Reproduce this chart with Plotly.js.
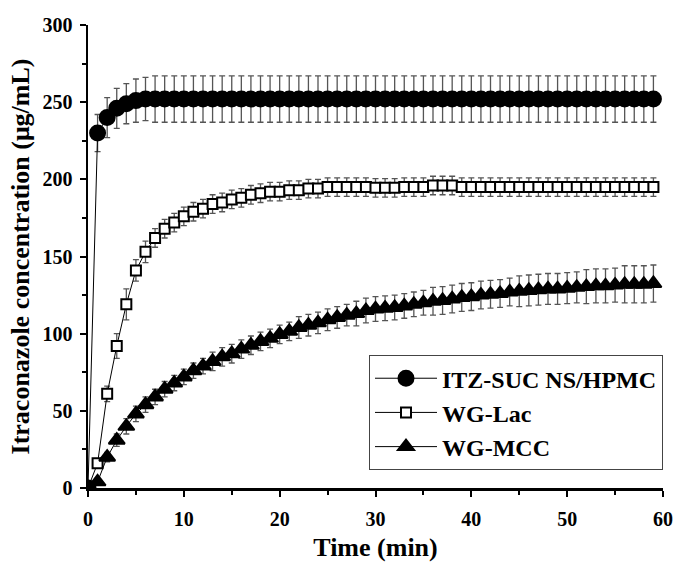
<!DOCTYPE html>
<html>
<head>
<meta charset="utf-8">
<script src="https://cdn.plot.ly/plotly-3.0.1.min.js"></script>
<style>html,body{margin:0;padding:0;background:#fff;}#chart{width:677px;height:564px;}</style>
</head>
<body>
<div id="chart"></div>
<script>
const time = [0,1,2,3,4,5,6,7,8,9,10,11,12,13,14,15,16,17,18,19,20,21,22,23,24,25,26,27,28,29,30,31,32,33,34,35,36,37,38,39,40,41,42,43,44,45,46,47,48,49,50,51,52,53,54,55,56,57,58,59];

const itzName = "ITZ-SUC NS/HPMC";
const itzMean = [0,230,240,246,249,251,252,252,252,252,252,252,252,252,252,252,252,252,252,252,252,252,252,252,252,252,252,252,252,252,252,252,252,252,252,252,252,252,252,252,252,252,252,252,252,252,252,252,252,252,252,252,252,252,252,252,252,252,252,252];
const itzErr  = [0,12,13,13,13,14,14,15,15,15,15,15,15,15,15,15,15,15,15,15,15,15,15,15,15,15,15,15,15,15,15,15,15,15,15,15,15,15,15,15,15,15,15,15,15,15,15,15,15,15,15,15,15,15,15,15,15,15,15,15];

const lacName = "WG-Lac";
const lacMean = [0,16,61,92,119,141,153,162,168,172,176,179,181,184,185,187,188,190,191,192,192,193,193,194,194,195,195,195,195,195,194.5,194.5,194.5,195,195,195,196,196,196,195,195,195,195,195,195,195,195,195,195,195,195,195,195,195,195,195,195,195,195,195];
const lacErr  = [0,3,5,8,10,7,7,6,6,6,6,6,6,6,6,6,6,6,6,6,6,6,6,6,6,6,6,6,6,6,6,6,6,6,6,6,6,6,6,6,6,6,6,6,6,6,6,6,6,6,6,6,6,6,6,6,6,6,6,6];

const mccName = "WG-MCC";
const mccMean = [0,4,20,31,40,48,54,59,64,68,72,76,79,82,85,87,90,92.5,95,97,99.5,101.5,104,105.5,107,109,110.5,112,113,115,116,116.5,117,118,119,120,121,121.5,122.5,123.5,124,125,125.5,126,127,127.5,128,128.5,129,129,129.5,130,130.5,131,131,131.5,132,132,132,132.5];
const mccErr  = [0,2,3,4,5,5,5,5,5,5,5,5,5,6,6,6,6,6,6,6,6,6,7,7,7,7,7,7,8,8,8,8,8,8,8,8,9,9,9,9,9,9,9,9,9,10,10,10,10,10,10,10,11,11,11,11,12,12,12,12];

const xTicks = [0,10,20,30,40,50,60];
const yTicks = [0,50,100,150,200,250,300];

const FONT = "Liberation Serif, Times New Roman, serif";

function mk(name, y, err, symbol, size, fill) {
  return {
    x: time, y: y, name: "<b>" + name + "</b>", type: "scatter", mode: "lines+markers",
    line: {color: "#000", width: 1},
    marker: {symbol: symbol, size: size, color: fill, line: {color: "#000", width: 2}},
    error_y: {type: "data", array: err, visible: true, color: "#555", thickness: 1.3, width: 3}
  };
}

const data = [
  mk(itzName, itzMean, itzErr, "circle", 15, "#000"),
  mk(lacName, lacMean, lacErr, "square", 10, "#fff"),
  mk(mccName, mccMean, mccErr, "triangle-up", 14, "#000")
];

const axisCommon = {
  showline: true, linecolor: "#000", linewidth: 2.5,
  ticks: "outside", ticklen: 6, tickwidth: 2, tickcolor: "#000",
  showgrid: false, zeroline: false,
  tickfont: {family: FONT, size: 20, color: "#000"},
  mirror: false
};

const layout = {
  width: 677, height: 564,
  margin: {l: 88, r: 14, t: 25, b: 76},
  paper_bgcolor: "#fff", plot_bgcolor: "#fff",
  font: {family: FONT, color: "#000"},
  showlegend: true,
  xaxis: Object.assign({}, axisCommon, {
    range: [0, 60], tickvals: xTicks, ticktext: xTicks.map(v => "<b>" + v + "</b>"),
    ticklabelstandoff: 5,
    minor: {dtick: 5, ticks: "outside", ticklen: 4, tickwidth: 2, tickcolor: "#000"},
    title: {text: "<b>Time (min)</b>", font: {family: FONT, size: 26, color: "#000"}, standoff: 10}
  }),
  yaxis: Object.assign({}, axisCommon, {
    range: [0, 300], tickvals: yTicks, ticktext: yTicks.map(v => "<b>" + v + "</b>"),
    ticklabelstandoff: 3,
    minor: {dtick: 25, ticks: "outside", ticklen: 4, tickwidth: 2, tickcolor: "#000"},
    title: {text: "<b>Itraconazole concentration (μg/mL)</b>", font: {family: FONT, size: 26, color: "#000"}, standoff: 6}
  }),
  legend: {
    x: 1, xanchor: "right", y: 0.287, yanchor: "top",
    bordercolor: "#444", borderwidth: 1, bgcolor: "#fff",
    font: {family: FONT, size: 24, color: "#000"},
    itemwidth: 62, tracegroupgap: 0
  }
};

Plotly.newPlot("chart", data, layout, {displayModeBar: false, staticPlot: true});
</script>
</body>
</html>
